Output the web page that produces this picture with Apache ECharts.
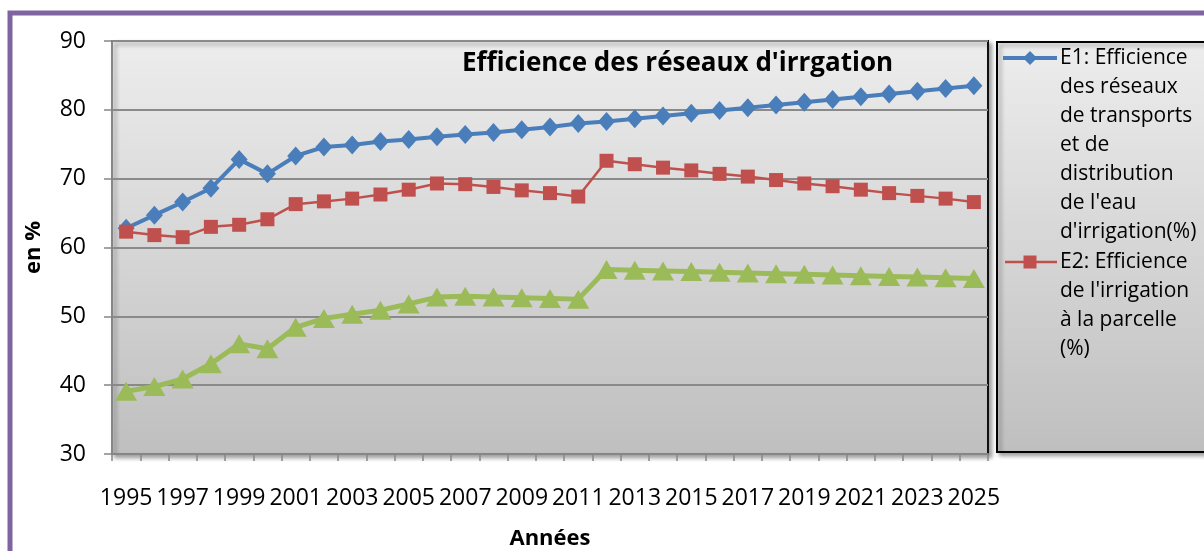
<!DOCTYPE html>
<html>
<head>
<meta charset="utf-8">
<script src="https://cdn.jsdelivr.net/npm/echarts@6/dist/echarts.min.js"></script>
<style>
html,body{margin:0;padding:0;background:#fff;}
#chart{width:1204px;height:551px;}
</style>
</head>
<body>
<div id="chart"></div>
<script>
// ---- data ----
const years = [];
for (let y = 1995; y <= 2025; y++) years.push(String(y));

const e1Values = [62.8, 64.7, 66.6, 68.6, 72.8, 70.7, 73.3, 74.6, 74.9, 75.4,
  75.7, 76.1, 76.4, 76.7, 77.1, 77.5, 78.0, 78.3, 78.7, 79.1,
  79.5, 79.9, 80.3, 80.7, 81.1, 81.5, 81.9, 82.3, 82.7, 83.1, 83.5];
const e2Values = [62.3, 61.8, 61.5, 63.0, 63.3, 64.1, 66.3, 66.7, 67.1, 67.7,
  68.4, 69.3, 69.2, 68.8, 68.3, 67.9, 67.4, 72.6, 72.1, 71.6,
  71.2, 70.7, 70.3, 69.8, 69.3, 68.9, 68.4, 67.9, 67.5, 67.1, 66.6];
const e3Values = [39.1, 39.8, 40.9, 43.1, 46.0, 45.3, 48.4, 49.7, 50.3, 50.9,
  51.8, 52.8, 52.9, 52.8, 52.7, 52.6, 52.5, 56.8, 56.7, 56.6,
  56.5, 56.4, 56.3, 56.2, 56.1, 56.0, 55.9, 55.8, 55.7, 55.6, 55.5];

const e1Name = "E1: Efficience des réseaux de transports et de distribution de l'eau d'irrigation(%)";
const e2Name = "E2: Efficience de l'irrigation à la parcelle (%)";
const e3Name = "E3";
const e1LegendLines = ["E1: Efficience", "des réseaux", "de transports", "et de", "distribution", "de l'eau", "d'irrigation(%)"];
const e2LegendLines = ["E2: Efficience", "de l'irrigation", "à la parcelle", "(%)"];

const chartTitle = "Efficience des réseaux d'irrgation";
const xName = "Années";
const yName = "en %";
const yMin = 30, yMax = 90, yStep = 10;

// ---- style ----
const FONT = '"Open Sans", Lato, sans-serif';
const BLUE = '#4a7ebb', RED = '#c0504d', GREEN = '#9bbb59';
const plotGrad = {type:'linear', x:0, y:0, x2:0, y2:1,
  colorStops:[{offset:0, color:'#ededed'}, {offset:1, color:'#bfbfbf'}]};

const chart = echarts.init(document.getElementById('chart'), null, {renderer:'canvas'});

const option = {
  animation: false,
  backgroundColor: '#ffffff',
  title: {
    text: chartTitle,
    left: 462, top: 51, padding: 0,
    textStyle: {fontFamily: FONT, fontSize: 26, fontWeight: 'bold', color: '#000'}
  },
  grid: {
    left: 112, right: 216, top: 41, bottom: 97,
    outerBoundsMode: 'none',
    containLabel: false,
    show: true,
    backgroundColor: plotGrad,
    borderColor: '#111', borderWidth: 2,
    shadowColor: 'rgba(0,0,0,0.35)', shadowBlur: 4, shadowOffsetX: 3, shadowOffsetY: 3
  },
  xAxis: {
    type: 'category',
    data: years,
    boundaryGap: true,
    name: xName,
    nameLocation: 'middle',
    nameGap: 74,
    nameTextStyle: {fontFamily: FONT, fontSize: 22, fontWeight: 'bold', color: '#000'},
    axisLine: {show: true, lineStyle: {color: '#868686', width: 2}},
    axisTick: {show: true, interval: 0, length: 7, alignWithLabel: false, lineStyle: {color: '#868686', width: 1.5}},
    axisLabel: {interval: 1, margin: 33, fontFamily: FONT, fontSize: 23, color: '#000'},
    splitLine: {show: false}
  },
  yAxis: {
    type: 'value',
    min: yMin, max: yMax, interval: yStep,
    name: yName,
    nameLocation: 'middle',
    nameRotate: 90,
    nameGap: 67,
    nameTextStyle: {fontFamily: FONT, fontSize: 22, fontWeight: 'bold', color: '#000'},
    axisLine: {show: true, lineStyle: {color: '#868686', width: 2}},
    axisTick: {show: true, length: 8, lineStyle: {color: '#868686', width: 1.5}},
    axisLabel: {margin: 26, fontFamily: FONT, fontSize: 23, color: '#000'},
    splitLine: {show: true, lineStyle: {color: '#8a8a8a', width: 2}}
  },
  series: [
    {
      name: e1Name, type: 'line', data: e1Values,
      symbol: 'diamond', symbolSize: [17, 19],
      showSymbol: true, showAllSymbol: true,
      lineStyle: {color: BLUE, width: 4},
      itemStyle: {color: BLUE},
      z: 3
    },
    {
      name: e2Name, type: 'line', data: e2Values,
      symbol: 'rect', symbolSize: 14,
      showSymbol: true, showAllSymbol: true,
      lineStyle: {color: RED, width: 2.5},
      itemStyle: {color: RED},
      z: 4
    },
    {
      name: e3Name, type: 'line', data: e3Values,
      symbol: 'triangle', symbolSize: [22, 19],
      showSymbol: true, showAllSymbol: true,
      lineStyle: {color: GREEN, width: 5},
      itemStyle: {color: GREEN},
      z: 5
    }
  ],
  graphic: [
    {
      type: 'rect', z: -10, silent: true,
      shape: {x: 10, y: 13, width: 1240, height: 580},
      style: {fill: 'transparent', stroke: '#8064a2', lineWidth: 5}
    },
    {
      type: 'rect', z: 100, silent: true,
      shape: {x: 997, y: 42, width: 240, height: 410},
      style: {fill: plotGrad, stroke: '#000', lineWidth: 2,
        shadowColor: 'rgba(0,0,0,0.35)', shadowBlur: 4, shadowOffsetX: 3, shadowOffsetY: 3}
    },
    {
      type: 'line', z: 101, silent: true,
      shape: {x1: 1003, y1: 58, x2: 1057, y2: 58},
      style: {stroke: BLUE, lineWidth: 4}
    },
    {
      type: 'polygon', z: 102, silent: true,
      shape: {points: [[1030, 51], [1037, 58], [1030, 65], [1023, 58]]},
      style: {fill: BLUE}
    },
    {
      type: 'text', z: 102, silent: true,
      x: 1060, y: 44,
      style: {text: e1LegendLines.join('\n'), font: '21px ' + FONT, lineHeight: 29,
        fill: '#000', verticalAlign: 'top', align: 'left'}
    },
    {
      type: 'line', z: 101, silent: true,
      shape: {x1: 1005, y1: 262, x2: 1057, y2: 262},
      style: {stroke: RED, lineWidth: 2.5}
    },
    {
      type: 'rect', z: 102, silent: true,
      shape: {x: 1023.5, y: 255.5, width: 13, height: 13},
      style: {fill: RED}
    },
    {
      type: 'text', z: 102, silent: true,
      x: 1060, y: 248,
      style: {text: e2LegendLines.join('\n'), font: '21px ' + FONT, lineHeight: 29,
        fill: '#000', verticalAlign: 'top', align: 'left'}
    }
  ]
};
chart.setOption(option);
</script>
</body>
</html>
